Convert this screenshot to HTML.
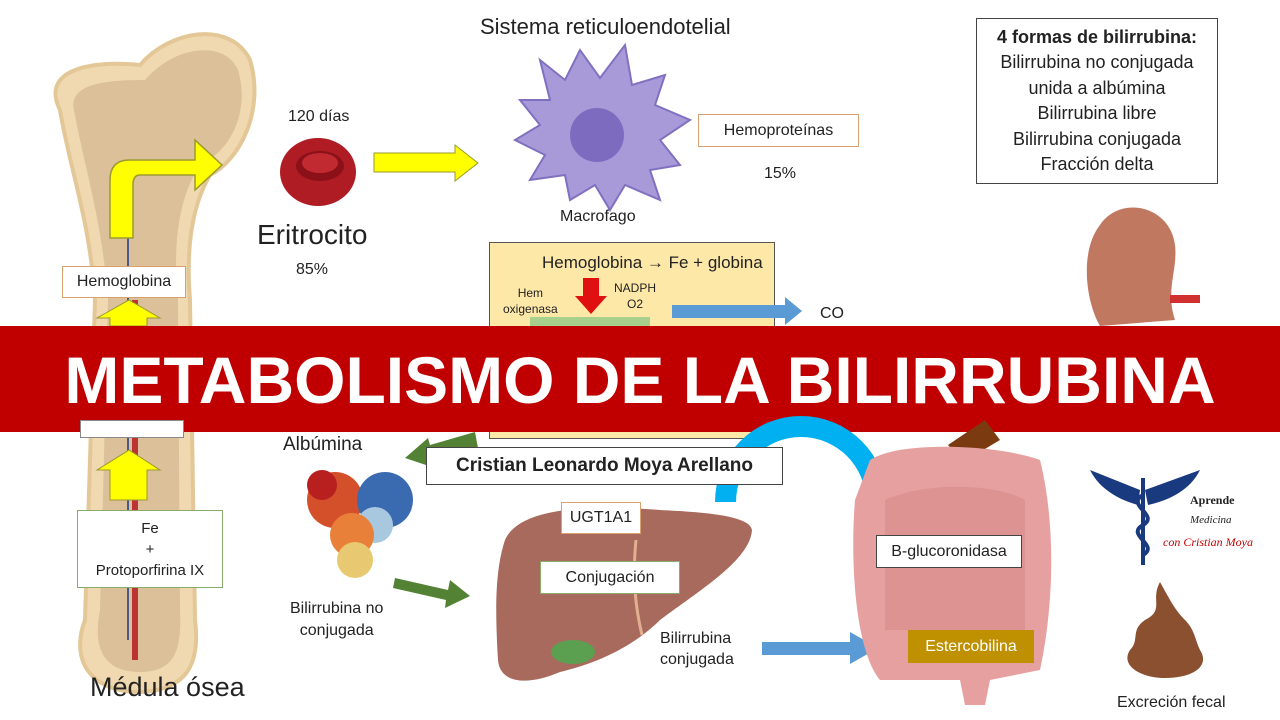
<!DOCTYPE html>
<html><head><meta charset="utf-8"><style>
html,body{margin:0;padding:0;background:#fff;width:1280px;height:720px;overflow:hidden}
body{position:relative;font-family:"Liberation Sans",Arial,sans-serif;color:#222}
.t{position:absolute;white-space:nowrap;text-align:center}
.box{position:absolute;background:#fff;box-sizing:border-box;display:flex;align-items:center;justify-content:center;text-align:center}
</style></head><body>
<svg width="1280" height="720" style="position:absolute;left:0;top:0">
<path d="M60,110 C40,70 90,60 140,65 C170,30 230,20 250,60 C265,110 240,160 210,175 C195,200 185,240 190,300 L195,620 C200,660 190,690 140,692 C90,692 70,660 85,620 L95,300 C90,220 70,170 60,110Z" fill="#f0d9b0" stroke="#e3c796" stroke-width="4"/>
<path d="M75,115 C65,85 100,80 145,80 C175,45 225,40 238,70 C250,110 232,150 200,165 C180,195 172,240 178,300 L180,610 C182,650 175,672 140,672 C105,672 92,650 100,610 L108,300 C102,220 85,170 75,115Z" fill="#dcc09a"/>
<line x1="135" y1="300" x2="135" y2="660" stroke="#b33" stroke-width="6"/>
<line x1="128" y1="210" x2="128" y2="640" stroke="#4a5a8a" stroke-width="2"/>
<path d="M110,238 L110,180 Q110,160 130,160 L195,160 L195,140 L222,165 L195,190 L195,175 L140,175 Q133,175 133,185 L133,238Z" fill="#ffff00" stroke="#9a9a30" stroke-width="1.5"/>
<path d="M110,326 L110,318 L97,318 L129,300 L160,318 L147,318 L147,326Z" fill="#ffff00" stroke="#9a9a30"/>
<path d="M110,500 L110,470 L97,470 L129,450 L160,470 L147,470 L147,500Z" fill="#ffff00" stroke="#9a9a30"/>
<ellipse cx="318" cy="172" rx="38" ry="34" fill="#b01c24"/>
<ellipse cx="320" cy="166" rx="24" ry="15" fill="#8c1018"/>
<ellipse cx="320" cy="163" rx="18" ry="10" fill="#c02a30"/>
<path d="M374,153 L455,153 L455,145 L478,163 L455,181 L455,172 L374,172Z" fill="#ffff00" stroke="#9a9a30"/>
<path d="M540,60 L565,80 L580,50 L600,78 L625,45 L632,85 L665,75 L655,105 L690,120 L660,140 L680,165 L650,170 L660,200 L625,185 L610,210 L595,185 L570,200 L565,175 L530,180 L545,155 L515,140 L540,125 L520,100 L550,100Z" fill="#a89ad8" stroke="#8070c0" stroke-width="2"/>
<circle cx="597" cy="135" r="27" fill="#7d6bbf"/>
<rect x="489.5" y="242.5" width="285" height="196" fill="#fde8a8" stroke="#555"/>
<path d="M583,278 L599,278 L599,296 L607,296 L591,314 L575,296 L583,296Z" fill="#e01010"/>
<rect x="530" y="317" width="120" height="10" fill="#a8d08d"/>
<path d="M672,305 L785,305 L785,297 L802,311 L785,325 L785,318 L672,318Z" fill="#5b9bd5"/>
<path d="M1100,225 C1120,195 1170,205 1175,245 C1178,270 1165,290 1175,320 L1100,326 C1085,300 1080,250 1100,225Z" fill="#c07860"/>
<rect x="1170" y="295" width="30" height="8" fill="#d03030"/>
<rect x="0" y="326" width="1280" height="106" fill="#c00000"/>
<path d="M475,432 L430,445 L428,438 L405,458 L435,468 L433,461 L478,448Z" fill="#548235"/>
<path d="M395,578 L448,590 L450,580 L470,596 L445,608 L446,600 L393,588Z" fill="#548235"/>
<circle cx="335" cy="500" r="28" fill="#d4502a"/>
<circle cx="322" cy="485" r="15" fill="#b82020"/>
<circle cx="385" cy="500" r="28" fill="#3a6ab0"/>
<circle cx="375" cy="525" r="18" fill="#a8c8e0"/>
<circle cx="352" cy="535" r="22" fill="#e8803a"/>
<circle cx="355" cy="560" r="18" fill="#e8c870"/>
<path d="M715,502 A86,86 0 0 1 887,502 L866,502 A65,65 0 0 0 736,502Z" fill="#00b0f0"/>
<path d="M505,540 C520,505 600,505 660,510 C700,512 750,515 752,530 C750,560 700,590 660,620 C630,650 590,665 560,672 C530,685 500,685 498,660 C495,610 495,570 505,540Z" fill="#a86a5c"/>
<ellipse cx="573" cy="652" rx="22" ry="12" fill="#5aa050"/>
<path d="M636,540 C632,580 636,610 642,635" stroke="#e0b090" stroke-width="3" fill="none"/>
<path d="M762,642 L850,642 L850,632 L878,648 L850,664 L850,655 L762,655Z" fill="#5b9bd5"/>
<path d="M948,445 L985,420 L1000,440 L963,462Z" fill="#7b3a10"/>
<path d="M870,460 C900,440 1000,445 1040,460 C1055,520 1055,600 1040,670 L990,680 L985,705 L965,705 L960,680 L880,680 C855,650 850,560 855,500Z" fill="#e6a0a0"/>
<path d="M885,500 C930,480 1000,485 1025,500 L1025,630 L885,630Z" fill="#d88a8a" opacity=".6"/>
<path d="M1090,470 L1140,490 L1138,505 C1120,500 1100,490 1090,470Z" fill="#1a3a80"/>
<path d="M1200,470 L1145,490 L1148,505 C1170,500 1190,490 1200,470Z" fill="#1a3a80"/>
<line x1="1143" y1="478" x2="1143" y2="565" stroke="#1a3a80" stroke-width="4"/>
<path d="M1143,495 C1125,505 1160,515 1143,525 C1125,535 1160,545 1143,555" stroke="#1a3a80" stroke-width="4" fill="none"/>
<path d="M1160,582 C1150,600 1165,610 1145,620 C1130,630 1140,640 1130,650 C1120,665 1140,678 1165,678 C1195,678 1210,665 1200,650 C1195,640 1195,630 1185,620 C1175,610 1170,600 1160,582Z" fill="#8a5030"/>
</svg>

<div class="t" style="left:480px;top:14px;font-size:22px;color:#222">Sistema reticuloendotelial</div>
<div class="t" style="left:288px;top:108px;font-size:16px">120 días</div>
<div class="t" style="left:257px;top:219px;font-size:28px">Eritrocito</div>
<div class="t" style="left:296px;top:261px;font-size:16px">85%</div>
<div class="t" style="left:560px;top:208px;font-size:16px">Macrofago</div>
<div class="box" style="left:698px;top:114px;width:161px;height:33px;border:1px solid #d9a070;font-size:16px">Hemoproteínas</div>
<div class="t" style="left:764px;top:165px;font-size:16px">15%</div>
<div class="box" style="left:976px;top:18px;width:242px;height:166px;border:1px solid #444;font-size:18px;line-height:25.5px;flex-direction:column"><b>4 formas de bilirrubina:</b>Bilirrubina no conjugada<br>unida a albúmina<br>Bilirrubina libre<br>Bilirrubina conjugada<br>Fracción delta</div>
<div class="box" style="left:62px;top:266px;width:124px;height:32px;border:1px solid #d9a070;font-size:16px">Hemoglobina</div>
<div class="box" style="left:80px;top:420px;width:104px;height:18px;border:1px solid #888"></div>
<div class="box" style="left:77px;top:510px;width:146px;height:78px;border:1px solid #8aab6e;font-size:15px;line-height:21px;flex-direction:column">Fe<br>+<br>Protoporfirina IX</div>
<div class="t" style="left:90px;top:672px;font-size:27px">Médula ósea</div>
<div class="t" style="left:542px;top:253px;font-size:17px">Hemoglobina → Fe + globina</div>
<div class="t" style="left:503px;top:285px;font-size:12px;line-height:16px">Hem<br>oxigenasa</div>
<div class="t" style="left:614px;top:280px;font-size:12px;line-height:16px">NADPH<br>O2</div>
<div class="t" style="left:820px;top:305px;font-size:16px">CO</div>
<div class="t" style="left:0;top:330px;width:1280px;font-size:66px;font-weight:bold;color:#fff;line-height:100px">METABOLISMO DE LA BILIRRUBINA</div>
<div class="t" style="left:283px;top:434px;font-size:19px">Albúmina</div>
<div class="box" style="left:426px;top:447px;width:357px;height:38px;border:1px solid #444;font-size:19px;font-weight:bold">Cristian Leonardo Moya Arellano</div>
<div class="t" style="left:290px;top:598px;font-size:16px;line-height:22px">Bilirrubina no<br>conjugada</div>
<div class="box" style="left:561px;top:502px;width:80px;height:32px;border:1px solid #d9a070;font-size:16px">UGT1A1</div>
<div class="box" style="left:540px;top:561px;width:140px;height:33px;border:1px solid #8aab6e;font-size:16px">Conjugación</div>
<div class="t" style="left:660px;top:628px;font-size:16px;line-height:21px;text-align:left">Bilirrubina<br>conjugada</div>
<div class="box" style="left:876px;top:535px;width:146px;height:33px;border:1px solid #444;font-size:16px">B-glucoronidasa</div>
<div class="box" style="left:908px;top:630px;width:126px;height:33px;background:#bf9000;color:#fff;font-size:16px">Estercobilina</div>
<div class="t" style="left:1190px;top:493px;font-size:12px;font-weight:bold;font-family:'Liberation Serif',serif">Aprende</div>
<div class="t" style="left:1190px;top:514px;font-size:11px;font-style:italic;font-family:'Liberation Serif',serif">Medicina</div>
<div class="t" style="left:1163px;top:535px;font-size:12px;font-style:italic;color:#c00000;font-family:'Liberation Serif',serif">con Cristian Moya</div>
<div class="t" style="left:1117px;top:694px;font-size:16px">Excreción fecal</div>
</body></html>
